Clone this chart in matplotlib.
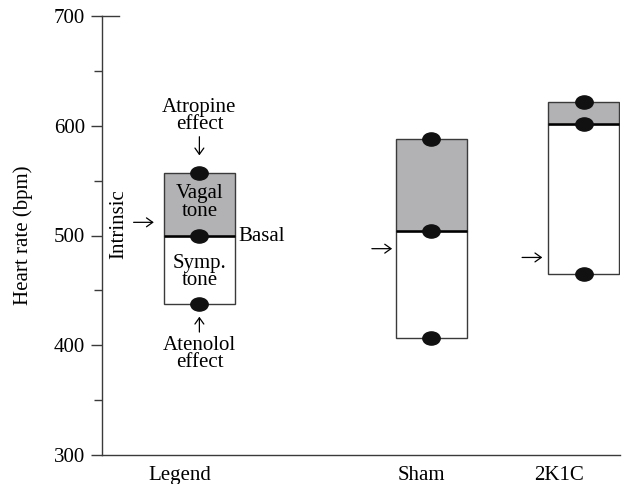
import matplotlib
matplotlib.use('Agg')
import matplotlib.pyplot as plt
from matplotlib.path import Path
from matplotlib.transforms import Affine2D
from matplotlib.ticker import MultipleLocator

plt.rcParams['font.family'] = 'Liberation Serif'

# -------- Data
groups = ['Legend', 'Sham', '2K1C']
atropine = [557, 588, 622]   # top of the grey box
basal = [500, 504, 602]      # thick line
atenolol = [438, 407, 465]   # bottom of the white box
intrinsic = [512, 488, 480]  # arrow height

# -------- Layout (x in arbitrary units, axis spans 0..10)
x_pos = [1.88, 6.36, 9.30]
label_pos = [1.51, 6.17, 8.82]
box_w = 1.38
arrow_gap = [0.19, 0.07, 0.11]
grey = '#b2b2b4'
edge = '#3a3a3a'
fs = 15
arrow = dict(arrowstyle='->, head_length=0.45, head_width=0.32', lw=0.9,
             color='black', shrinkA=0, shrinkB=0)

fig = plt.figure(figsize=(6.24, 4.84), dpi=100)
ax = fig.add_axes([102 / 624, 29 / 484, 518 / 624, 439 / 484])

for x, top, mid, bot in zip(x_pos, atropine, basal, atenolol):
    ax.bar(x, mid - bot, bottom=bot, width=box_w, color='white', edgecolor=edge, linewidth=1.0, zorder=2)
    ax.bar(x, top - mid, bottom=mid, width=box_w, color=grey, edgecolor=edge, linewidth=1.0, zorder=2)
    ax.hlines(mid, x - box_w / 2, x + box_w / 2, color='black', linewidth=1.8, zorder=3)

# -------- Elliptic dots
dot = Path.unit_circle().transformed(Affine2D().scale(1, 0.76))
for vals in (atropine, basal, atenolol):
    ax.plot(x_pos, vals, linestyle='none', marker=dot, markersize=12.5, color='#111111', zorder=4)

# -------- Intrinsic arrows
for x, y, g in zip(x_pos, intrinsic, arrow_gap):
    tip = x - box_w / 2 - g
    ax.annotate('', xy=(tip, y), xytext=(tip - 0.39, y), arrowprops=arrow, fontsize=10)

# -------- Legend annotations
lx = x_pos[0]
ax.text(lx, 609, 'Atropine\neffect', ha='center', va='center', fontsize=fs, linespacing=0.88)
ax.annotate('', xy=(lx, 573), xytext=(lx, 590), arrowprops=arrow, fontsize=10)
ax.text(lx, 530, 'Vagal\ntone', ha='center', va='center', fontsize=fs, linespacing=0.88, zorder=5)
ax.text(lx, 467, 'Symp.\ntone', ha='center', va='center', fontsize=fs, linespacing=0.88, zorder=5)
ax.text(2.63, 499, 'Basal', ha='left', va='center', fontsize=fs)
ax.annotate('', xy=(lx, 426), xytext=(lx, 412), arrowprops=arrow, fontsize=10)
ax.text(lx, 392, 'Atenolol\neffect', ha='center', va='center', fontsize=fs, linespacing=0.88)
ax.text(0.33, 510, 'Intrinsic', ha='center', va='center', rotation=90, fontsize=fs)

# -------- Axes styling
ax.set_xlim(0, 10)
ax.set_ylim(300, 700)
ax.set_xticks(label_pos)
ax.set_xticklabels(groups, fontsize=fs)
ax.tick_params(axis='x', length=0, pad=8)
ax.yaxis.set_major_locator(MultipleLocator(100))
ax.yaxis.set_minor_locator(MultipleLocator(50))
ax.tick_params(axis='y', which='major', length=8, width=1.0, color=edge, labelsize=fs, pad=4)
ax.tick_params(axis='y', which='minor', length=6, width=1.0, color=edge)
ax.set_ylabel('Heart rate (bpm)', fontsize=fs)
ax.yaxis.set_label_coords(-0.133, 0.5)
# small cap at the top of the y axis
ax.plot([0, 0.33], [700, 700], color=edge, linewidth=1.0, clip_on=False)
for side in ('top', 'right'):
    ax.spines[side].set_visible(False)
for side in ('left', 'bottom'):
    ax.spines[side].set_color(edge)
    ax.spines[side].set_linewidth(1.0)

fig.savefig('out.png', dpi=100)
